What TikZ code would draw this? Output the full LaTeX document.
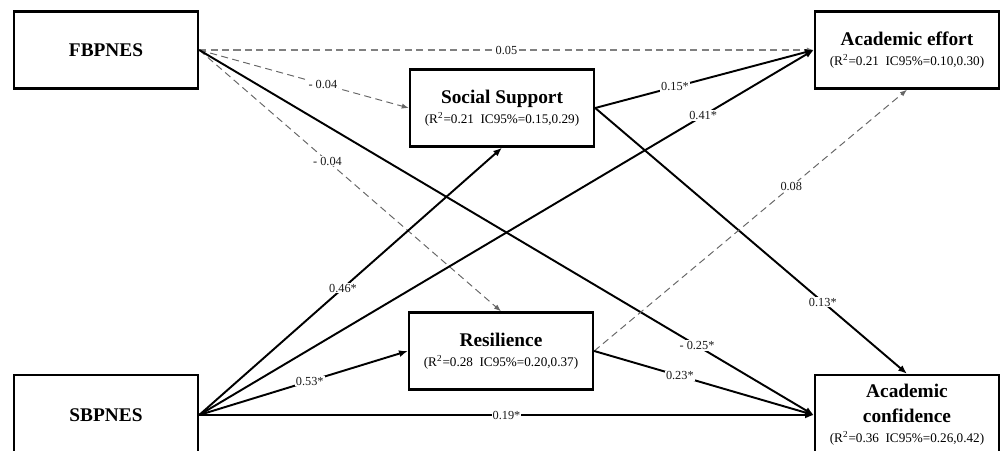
\documentclass[tikz,border=0pt]{standalone}
\usepackage{fontspec}
\setmainfont{Liberation Serif}
\usetikzlibrary{arrows.meta}

\begin{document}
\begin{tikzpicture}[
        x=0.02cm, y=-0.02cm,
        var/.style={rectangle, draw=black, line width=1.4pt, fill=white, minimum width=3.68cm, minimum height=1.54cm, align=center, inner sep=1pt, font=\fontsize{11}{11.5}\selectfont\bfseries},
        arrow/.style={-{Latex[length=5pt,width=4pt]}, line width=1.1pt, color=black},
        nsarrow/.style={-{Latex[length=4pt,width=3pt]}, dash pattern=on 4pt off 2.5pt, line width=0.55pt, color=black!60},
        coef/.style={fill=white, inner sep=0.6pt, font=\fontsize{7}{8}\selectfont, text=black!90}
    ]
        \path[use as bounding box, clip] (0,0) rectangle (1001,450);

        % variables
        \node[var] (fb) at (106,50) {FBPNES};
        \node[var, minimum height=1.6cm] (sb) at (106,415) {SBPNES};
        \node[var] (ss) at (502,108) {Social Support\\ {\mdseries\fontsize{7.5}{9}\selectfont (R\textsuperscript{2}=0.21\ \ IC95\%=0.15,0.29)}};
        \node[var] (res) at (501,351) {Resilience\\ {\mdseries\fontsize{7.5}{9}\selectfont (R\textsuperscript{2}=0.28\ \ IC95\%=0.20,0.37)}};
        \node[var] (ae) at (907,50) {Academic effort\\ {\mdseries\fontsize{7.5}{9}\selectfont (R\textsuperscript{2}=0.21\ \ IC95\%=0.10,0.30)}};
        \node[var, minimum height=1.6cm] (ac) at (907,415) {Academic\\[2.5pt] confidence\\ {\mdseries\fontsize{7.5}{9}\selectfont (R\textsuperscript{2}=0.36\ \ IC95\%=0.26,0.42)}};

        % paths from FBPNES
        \draw[nsarrow, line width=0.9pt, color=black!50] (fb.east) -- node[coef, pos=0.5] {0.05} (ae.west);
        \draw[nsarrow] (fb.east) -- node[coef, pos=0.59] {- 0.04} (ss.west);
        \draw[nsarrow] (fb.east) -- node[coef, pos=0.425] {- 0.04} (res.north);
        \draw[arrow] (fb.east) -- node[coef, pos=0.81] {- 0.25*} (ac.west);

        % paths from SBPNES
        \draw[arrow] (sb.east) -- node[coef, pos=0.475] {0.46*} (ss.south);
        \draw[arrow] (sb.east) -- node[coef, pos=0.82] {0.41*} (ae.west);
        \draw[arrow] (sb.east) -- node[coef, pos=0.53] {0.53*} (res.west);
        \draw[arrow] (sb.east) -- node[coef, pos=0.5] {0.19*} (ac.west);

        % paths from the mediators
        \draw[arrow] (ss.east) -- node[coef, pos=0.365] {0.15*} (ae.west);
        \draw[arrow] (ss.east) -- node[coef, pos=0.73] {0.13*} (ac.north);
        \draw[nsarrow] (res.east) -- node[coef, pos=0.63] {0.08} (ae.south);
        \draw[arrow] (res.east) -- node[coef, pos=0.39] {0.23*} (ac.west);
    \end{tikzpicture}
\end{document}
